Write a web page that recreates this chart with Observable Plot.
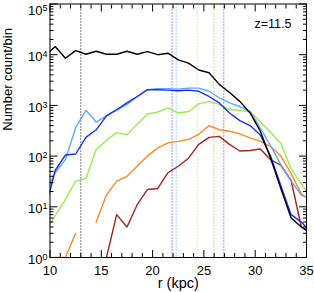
<!DOCTYPE html>
<html><head><meta charset="utf-8">
<script src="https://cdn.jsdelivr.net/npm/d3@7"></script>
<script src="https://cdn.jsdelivr.net/npm/@observablehq/plot@0.6"></script>
<style>
body{margin:0;background:#fff}
#chart svg{font-family:"Liberation Sans",Arial,sans-serif;overflow:visible}
</style>
</head><body><div id="chart"></div>
<script>
// bin centres (kpc)
const radius = [9.5,10.5,11.5,12.5,13.5,14.5,15.5,16.5,17.5,18.5,19.5,20.5,21.5,22.5,23.5,24.5,25.5,26.5,27.5,28.5,29.5,30.5,31.5,32.5,33.5,34.5,35.5];
// number count per bin for each population (null = empty bin)
const countAll  = [9300,14500,8500,12000,10200,11700,10200,10200,11700,10200,11500,10000,10700,7900,6800,5000,4400,2600,1800,1200,710,310,91,23,6,4,3];
const countPop1 = [8,52,105,110,234,330,620,830,1120,1500,2040,2040,2000,1950,2000,1900,1500,1120,710,500,400,260,100,26,7,5,3];
const countPop2 = [18,47,85,363,800,470,620,800,1050,1480,2040,2140,2140,2090,2190,2190,1900,1400,1120,950,760,355,160,68,32,17,14];
const countPop3 = [3.3,6.6,14,32,36,135,204,290,263,427,676,741,890,708,760,1070,1200,1050,830,794,760,470,295,178,56,28,14];
const countPop4 = [null,1,1,3,null,5,17,32,40,63,100,145,182,195,214,269,400,331,309,275,229,195,155,100,45,18,13];
const countPop5 = [null,null,null,null,null,null,1,7,4,11,22,23,47,63,91,170,234,245,170,126,129,138,85,66,33,4,3];
// characteristic radius of each population (kpc)
const markRadius = [13.0,21.9,22.3,24.35,25.97,26.94];

const seriesNames  = ["S0","S1","S2","S3","S4","S5"];
const seriesColors = ["#000000","#1c2cf0","#62a6ff","#98ec50","#ff8a22","#a82222"];
const seriesCounts = [countAll,countPop1,countPop2,countPop3,countPop4,countPop5];

const xMajor = [10,15,20,25,30,35];
const xMinor = d3.range(10,36,1).filter(d => d % 5 !== 0);
const yMajor = [1,10,100,1000,10000,100000];
const yMinor = [0,1,2,3,4].flatMap(k => [2,3,4,5,6,7,8,9].map(m => m*10**k));
const annotation = "z=11.5";
const xTitle = "r (kpc)";
const yTitle = "Number count/bin";

const drawOrder = [5,4,3,2,1,0];
const rows = drawOrder.flatMap(i => radius.map((r,j) => ({
  r, n: seriesCounts[i][j] == null ? NaN : seriesCounts[i][j], s: seriesNames[i]
})));
const markers = seriesNames.map((s,i) => ({s, r: markRadius[i]}));

const fs = 13;
const plot = Plot.plot({
  width: 314, height: 292,
  marginLeft: 49.5, marginRight: 8, marginTop: 3.5, marginBottom: 35,
  style: {fontFamily: '"Liberation Sans",Arial,sans-serif', fontSize: fs+"px", color: "#000", background: "#fff"},
  x: {type: "linear", domain: [10,35]},
  y: {type: "log", domain: [1,1e5]},
  color: {type: "ordinal", domain: seriesNames, range: seriesColors},
  marks: [
    Plot.ruleX(markers, {x: "r", stroke: "s", strokeWidth: 1, strokeDasharray: "1,2"}),
    Plot.line(rows, {x: "r", y: "n", z: "s", stroke: "s", strokeWidth: 1.4, clip: true}),
    Plot.frame({stroke: "#000", strokeWidth: 1}),
    Plot.axisX(xMajor, {anchor: "bottom", tickSize: -7, tickPadding: 15, fontSize: fs, label: null, tickFormat: d => String(d)}),
    Plot.axisX(xMinor, {anchor: "bottom", tickSize: -4, fill: "none", label: null}),
    Plot.axisX(xMajor, {anchor: "top", tickSize: -7, fill: "none", label: null}),
    Plot.axisX(xMinor, {anchor: "top", tickSize: -4, fill: "none", label: null}),
    Plot.axisY(yMajor, {anchor: "left", tickSize: -8, tickPadding: 10.5, fontSize: fs, label: null, tickFormat: d => String(Math.round(Math.log10(d)))}),
    Plot.axisY(yMinor, {anchor: "left", tickSize: -4, fill: "none", label: null}),
    Plot.axisY(yMajor, {anchor: "right", tickSize: -8, fill: "none", label: null}),
    Plot.axisY(yMinor, {anchor: "right", tickSize: -4, fill: "none", label: null}),
    Plot.text([annotation], {frameAnchor: "top-right", dx: -15, dy: 19.5, textAnchor: "end", lineAnchor: "middle", fontSize: 12.5, fill: "#000"}),
    Plot.text([xTitle], {frameAnchor: "bottom", dy: 26, lineAnchor: "middle", fontSize: 14.5, fill: "#000"}),
    Plot.text([yTitle], {frameAnchor: "left", dx: -42, rotate: -90, lineAnchor: "middle", fontSize: fs, fill: "#000"})
  ]
});
const ns = "http://www.w3.org/2000/svg";
plot.querySelectorAll('g[aria-label="y-axis tick label"] text').forEach(t => {
  const e = t.textContent;
  t.textContent = "";
  const a = document.createElementNS(ns, "tspan"); a.textContent = "10";
  const b = document.createElementNS(ns, "tspan"); b.textContent = e;
  b.setAttribute("dy", "-0.45em"); b.setAttribute("font-size", "9");
  t.appendChild(a); t.appendChild(b);
  const tr = t.getAttribute("transform") || "";
  t.setAttribute("transform", tr + (e === "5" ? " translate(0,7)" : " translate(0,2)"));
});
document.getElementById("chart").appendChild(plot);
</script>
</body></html>
